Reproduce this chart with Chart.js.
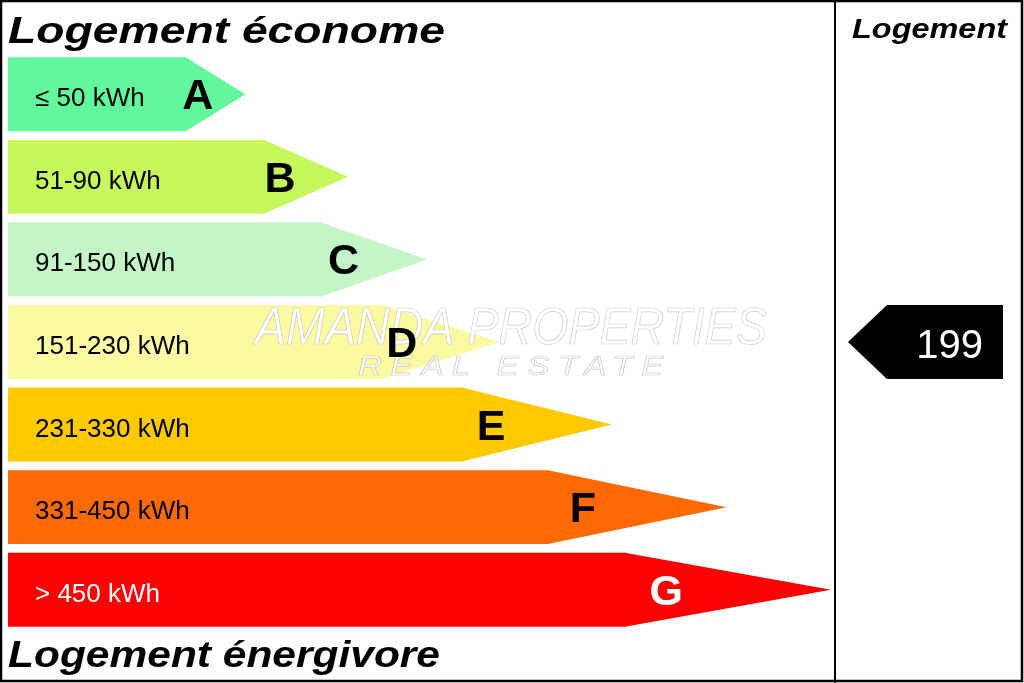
<!DOCTYPE html>
<html>
<head>
<meta charset="utf-8">
<script src="https://cdn.jsdelivr.net/npm/chart.js@4"></script>
<style>
  html, body { margin: 0; padding: 0; background: #fff; }
</style>
</head>
<body>
<canvas id="myChart" width="1024" height="683"></canvas>
<script>
// energy classes, best at the top
const grades = ['A', 'B', 'C', 'D', 'E', 'F', 'G'];
const ranges = ['≤ 50 kWh', '51-90 kWh', '91-150 kWh', '151-230 kWh', '231-330 kWh', '331-450 kWh', '> 450 kWh'];
const upperBounds = [50, 90, 150, 230, 330, 450, Infinity];
// arrow lengths on a 0-100 scale: end of the straight part, then the point
const bodyLengths = [21.6, 31.1, 38.0, 45.2, 55.0, 65.4, 74.7];
const tipLengths = [28.7, 41.1, 50.7, 59.5, 73.0, 86.9, 99.5];
const gradeColors = ['#62f79b', '#c6f75c', '#c3f5c6', '#fbf9a1', '#fdc900', '#fd6a05', '#fd0000'];
const textColors = ['#000', '#000', '#000', '#000', '#000', '#000', '#fff'];
const consumption = 199;

const FONT = '"Liberation Sans", Arial, sans-serif';

// draw text squeezed/stretched to a given width
function fitText(ctx, text, x, y, font, width, stroke) {
  ctx.save();
  ctx.font = font;
  const w = ctx.measureText(text).width;
  ctx.translate(x, y);
  ctx.scale(width / w, 1);
  ctx.fillText(text, 0, 0);
  if (stroke) ctx.strokeText(text, 0, 0);
  ctx.restore();
}

const energyLabel = {
  id: 'energyLabel',
  beforeDraw(chart) {
    const ctx = chart.ctx;
    ctx.save();
    ctx.fillStyle = '#fff';
    ctx.fillRect(0, 0, chart.width, chart.height);
    ctx.restore();
  },
  afterDatasetsDraw(chart) {
    const ctx = chart.ctx;
    const xs = chart.scales.x;
    const area = chart.chartArea;
    const bars = chart.getDatasetMeta(0).data.map(b => b.getProps(['x', 'y', 'base', 'height'], true));

    ctx.save();
    // arrow heads
    bars.forEach((bar, i) => {
      const top = bar.y - bar.height / 2;
      const bottom = bar.y + bar.height / 2;
      ctx.fillStyle = gradeColors[i];
      ctx.beginPath();
      ctx.moveTo(bar.x - 1, top);
      ctx.lineTo(xs.getPixelForValue(tipLengths[i]), bar.y);
      ctx.lineTo(bar.x - 1, bottom);
      ctx.closePath();
      ctx.fill();
    });

    // watermark
    ctx.fillStyle = '#fff';
    ctx.strokeStyle = 'rgba(150,150,150,0.5)';
    ctx.lineWidth = 0.7;
    ctx.textAlign = 'left';
    ctx.textBaseline = 'alphabetic';
    fitText(ctx, 'AMANDA PROPERTIES', 255, 344, 'italic 52px ' + FONT, 512, true);
    ctx.letterSpacing = '7px';
    fitText(ctx, 'REAL ESTATE', 358, 375, 'italic 27px ' + FONT, 314, true);
    ctx.letterSpacing = '0px';

    // range labels and letters
    bars.forEach((bar, i) => {
      ctx.fillStyle = textColors[i];
      ctx.textAlign = 'left';
      ctx.font = '26px ' + FONT;
      ctx.fillText(ranges[i], area.left + 27, bar.y + 12);
      const tip = xs.getPixelForValue(tipLengths[i]);
      ctx.textAlign = 'center';
      ctx.font = 'bold 43px ' + FONT;
      ctx.fillText(grades[i], area.left + 0.8 * (tip - area.left), bar.y + 15);
    });

    // titles
    ctx.fillStyle = '#000';
    ctx.textAlign = 'left';
    fitText(ctx, 'Logement économe', 8, 43, 'italic bold 37px ' + FONT, 437);
    fitText(ctx, 'Logement énergivore', 8, 667, 'italic bold 36px ' + FONT, 432);

    // frame and divider
    const divider = 835;
    ctx.strokeStyle = '#000';
    ctx.lineWidth = 2.5;
    ctx.strokeRect(1, 1, chart.width - 3, chart.height - 3);
    ctx.lineWidth = 2;
    ctx.beginPath();
    ctx.moveTo(divider, 0);
    ctx.lineTo(divider, chart.height);
    ctx.stroke();

    fitText(ctx, 'Logement', divider + 17, 38, 'italic bold 28px ' + FONT, 155);

    // marker for this dwelling, on the row of its class
    const k = upperBounds.findIndex(b => consumption <= b);
    const row = bars[k];
    const mTop = row.y - row.height / 2;
    const mBottom = row.y + row.height / 2;
    const mRight = chart.width - 21;
    const mBody = divider + 52;
    ctx.fillStyle = '#000';
    ctx.beginPath();
    ctx.moveTo(mRight, mTop);
    ctx.lineTo(mBody, mTop);
    ctx.lineTo(divider + 13, row.y);
    ctx.lineTo(mBody, mBottom);
    ctx.lineTo(mRight, mBottom);
    ctx.closePath();
    ctx.fill();
    ctx.fillStyle = '#fff';
    ctx.textAlign = 'right';
    ctx.font = '40px ' + FONT;
    ctx.fillText(String(consumption), mRight - 20, row.y + 16);
    ctx.restore();
  }
};

new Chart(document.getElementById('myChart'), {
  type: 'bar',
  data: {
    labels: grades,
    datasets: [{
      data: bodyLengths,
      backgroundColor: gradeColors,
      borderWidth: 0,
      categoryPercentage: 1,
      barPercentage: 0.895
    }]
  },
  options: {
    indexAxis: 'y',
    responsive: false,
    animation: false,
    devicePixelRatio: 1,
    layout: { padding: { left: 8, right: 189, top: 53, bottom: 52 } },
    scales: {
      x: { display: false, min: 0, max: 100 },
      y: { display: false }
    },
    plugins: {
      legend: { display: false },
      tooltip: { enabled: false }
    }
  },
  plugins: [energyLabel]
});
</script>
</body>
</html>
